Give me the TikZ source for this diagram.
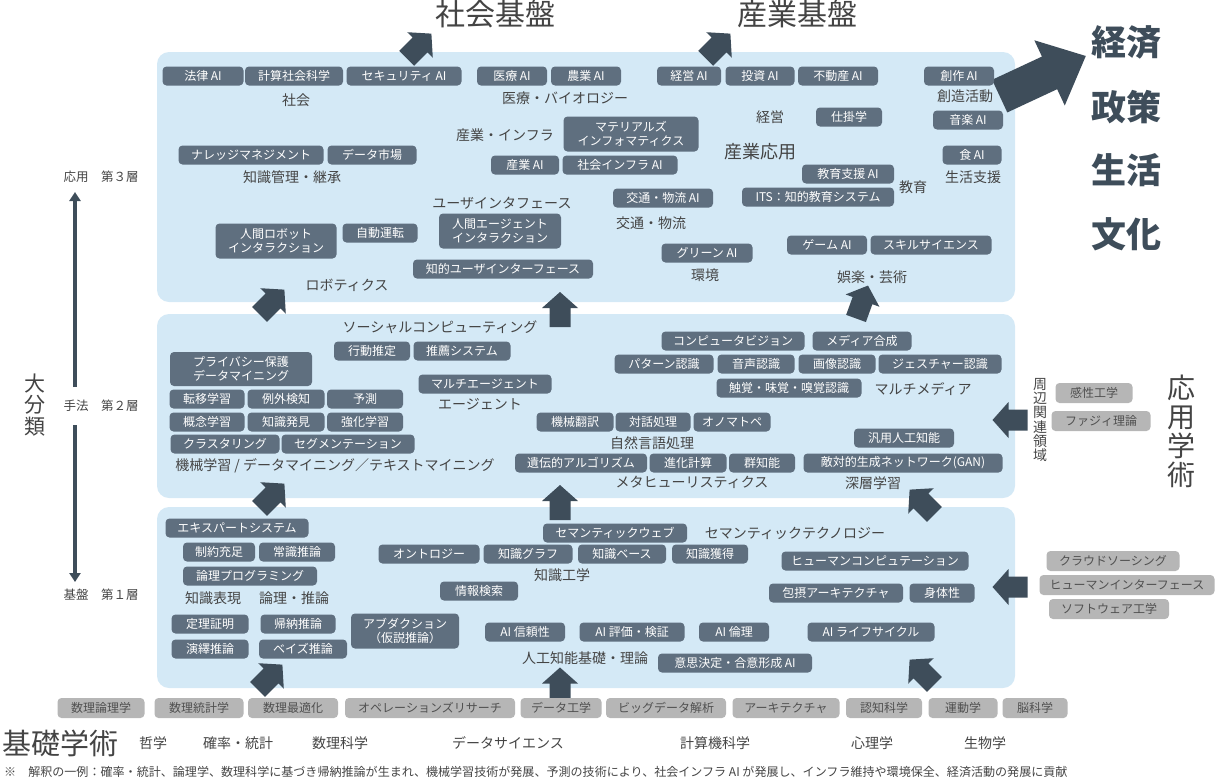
\documentclass[tikz,border=0pt]{standalone}
\usepackage{fontspec}
\setmainfont{Noto Sans CJK JP}
\usetikzlibrary{arrows.meta,positioning}
\definecolor{panelc}{RGB}{212,233,246}
\definecolor{pillc}{RGB}{95,111,127}
\definecolor{arrowc}{RGB}{62,77,90}
\definecolor{txtc}{RGB}{68,68,68}
\definecolor{grayc}{RGB}{182,182,182}
\definecolor{graytxt}{RGB}{80,80,80}
\newcommand\fsz[1]{\fontsize{#1}{#1}\selectfont}

\begin{document}
\begin{tikzpicture}[
    x=1pt, y=-1pt,
    panel/.style={fill=panelc, rounded corners=12pt, inner sep=0pt, minimum width=858pt},
    pill/.style={fill=pillc, text=white, rounded corners=4pt, minimum height=19pt,
                 inner sep=1pt, align=center, font=\fsz{12}},
    pilltwo/.style={pill, minimum height=35pt, font=\fontsize{12}{14}\selectfont},
    gpill/.style={fill=grayc, text=graytxt, rounded corners=4pt, minimum height=20pt,
                 inner sep=1pt, font=\fsz{12}},
    lbl/.style={text=txtc, inner sep=0pt, font=\fsz{14}},
    title/.style={text=txtc, inner sep=0pt, font=\fsz{30}},
    goal/.style={text=arrowc, inner sep=0pt, font=\fsz{35}\bfseries},
    vtext/.style={text=txtc, inner sep=0pt, align=center},
    axlbl/.style={text=txtc, inner sep=0pt, font=\fsz{12.5}},
    axarrow/.style={draw=arrowc, line width=4pt, -{Triangle[width=11pt,length=9pt]}},
    pics/blockarr/.style={code={
        \fill[arrowc] (-17.5,-10.5) -- (1.5,-10.5) -- (1.5,-18) -- (17.5,0)
                      -- (1.5,18) -- (1.5,10.5) -- (-17.5,10.5) -- cycle;}}
]
\useasboundingbox (0,0) rectangle (1220,782);

% ---------- layers ----------
\node[panel, minimum height=250pt] (lay3) at (586,177) {};
\node[panel, minimum height=184pt] (lay2) at (586,406) {};
\node[panel, minimum height=181pt] (lay1) at (586,597.5) {};

% ---------- arrows between layers ----------
\pic[rotate=45]  (asoc) at (419,46)  {blockarr};
\pic[rotate=45]  (aind) at (718,46)  {blockarr};
\pic[rotate=45]  (a3l)  at (272,302) {blockarr};
\pic[rotate=90]  (a3m)  at (560,309.5) {blockarr};
\pic[rotate=70]  (a3r)  at (862,302) {blockarr};
\pic[rotate=45]  (a2l)  at (272,496) {blockarr};
\pic[rotate=90]  (a2m)  at (560,502.5) {blockarr};
\pic[rotate=135] (a2r)  at (922,502) {blockarr};
\pic[rotate=45]  (a1l)  at (270,677) {blockarr};
\pic[rotate=90]  (a1m)  at (560,685) {blockarr};
\pic[rotate=135] (a1r)  at (922,672) {blockarr};
\pic[rotate=180] (arm)  at (1010,420) {blockarr};
\pic[rotate=180] (arb)  at (1010,587) {blockarr};
% big arrow to the right
\begin{scope}[shift={(1045,75)}, rotate=25]
\fill[arrowc] (-50,-18) -- (5,-18) -- (5,-36) -- (45,0) -- (5,36) -- (5,18) -- (-50,18) -- cycle;
\end{scope}

% ---------- titles ----------
\node[title] (tsoc) at (495,14) {社会基盤};
\node[title] (tind) at (797,14) {産業基盤};
\node[goal] (g1) at (1126,42)  {経済};
\node[goal] (g2) at (1126,107) {政策};
\node[goal] (g3) at (1126,170) {生活};
\node[goal] (g4) at (1126,234) {文化};

% ---------- left axis ----------
\node[vtext, font=\fontsize{21}{21.5}\selectfont] (daibun) at (35,405) {大\\分\\類};
\node[axlbl] (ax3) at (101,177) {応用　第３層};
\node[axlbl] (ax2) at (101,406) {手法　第２層};
\node[axlbl] (ax1) at (101,595) {基盤　第１層};
\coordinate (axt)  at (75,192);
\coordinate (axm1) at (75,387);
\coordinate (axm2) at (75,425);
\coordinate (axb)  at (75,582);
\draw[axarrow] (axm1) -- (axt);
\draw[axarrow] (axm2) -- (axb);

% ---------- layer 3 ----------
\node[pill, minimum width=81pt]  (hou)    at (203,76) {法律 AI};
\node[pill, minimum width=98pt]  (keisan) at (294,76) {計算社会科学};
\node[pill, minimum width=115pt] (secu)   at (404,76) {セキュリティ AI};
\node[pill, minimum width=70pt]  (iryo)   at (512,76) {医療 AI};
\node[pill, minimum width=70pt]  (nogyo)  at (586,76) {農業 AI};
\node[pill, minimum width=64pt]  (keiei)  at (689,76) {経営 AI};
\node[pill, minimum width=69pt]  (toushi) at (760,76) {投資 AI};
\node[pill, minimum width=80pt]  (fudo)   at (838,76) {不動産 AI};
\node[pill, minimum width=70pt]  (sosaku) at (959,76) {創作 AI};
\node[pill, minimum width=70pt]  (ongaku) at (968,120) {音楽 AI};
\node[pill, minimum width=59pt]  (shoku)  at (972,155) {食 AI};
\node[pill, minimum width=66pt]  (shikake) at (849,117) {仕掛学};
\node[pill, minimum width=92pt]  (kyoiku) at (848,174) {教育支援 AI};
\node[pill, minimum width=152pt] (its)    at (818,197) {ITS：知的教育システム};
\node[pill, minimum width=80pt]  (game)   at (827,245) {ゲーム AI};
\node[pill, minimum width=121pt] (skill)  at (931,245) {スキルサイエンス};
\node[pill, minimum width=91pt]  (green)  at (707,253) {グリーン AI};
\node[pill, minimum width=100pt] (kotsu)  at (663,198) {交通・物流 AI};
\node[pilltwo, minimum width=135pt] (mat) at (631,134) {マテリアルズ\\インフォマティクス};
\node[pill, minimum width=68pt]  (sangyo) at (525,165) {産業 AI};
\node[pill, minimum width=115pt] (infra)  at (620,165) {社会インフラ AI};
\node[pilltwo, minimum width=122pt] (hai) at (500,231) {人間エージェント\\インタラクション};
\node[pill, minimum width=180pt] (chui)   at (503,269) {知的ユーザインターフェース};
\node[pill, minimum width=145pt] (knowm)  at (251,155) {ナレッジマネジメント};
\node[pill, minimum width=89pt]  (dmkt)   at (372,155) {データ市場};
\node[pilltwo, minimum width=121pt] (hri) at (276,241) {人間ロボット\\インタラクション};
\node[pill, minimum width=75pt]  (jido)   at (380,233) {自動運転};

\node[lbl] (lshakai) at (296,100) {社会};
\node[lbl] (liryo)   at (565,98)  {医療・バイオロジー};
\node[lbl] (lsozo)   at (965,96)  {創造活動};
\node[lbl] (lseikatsu) at (973,177) {生活支援};
\node[lbl] (lkeiei)  at (770,117) {経営};
\node[lbl, font=\fsz{18}] (lsangyo) at (760,152) {産業応用};
\node[lbl] (lkyoiku) at (913,187) {教育};
\node[lbl] (lgoraku) at (872,277) {娯楽・芸術};
\node[lbl] (lkankyo) at (705,275) {環境};
\node[lbl] (lkotsu)  at (651,223) {交通・物流};
\node[lbl] (linfra)  at (505,135) {産業・インフラ};
\node[lbl] (lui)     at (502,203) {ユーザインタフェース};
\node[lbl] (lchishiki) at (292,177) {知識管理・継承};
\node[lbl] (lrobot)  at (347,285) {ロボティクス};

% ---------- layer 2 ----------
\node[lbl] (lsocial) at (440,327) {ソーシャルコンピューティング};
\node[pill, minimum width=76pt]  (koudo)   at (372,351) {行動推定};
\node[pill, minimum width=97pt]  (suisen)  at (462,351) {推薦システム};
\node[pilltwo, minimum width=142pt, minimum height=34pt] (privacy) at (241,369) {プライバシー保護\\データマイニング};
\node[pill, minimum width=75pt]  (teni)    at (207,399) {転移学習};
\node[pill, minimum width=77pt]  (reigai)  at (286,399) {例外検知};
\node[pill, minimum width=76pt]  (yosoku)  at (365,399) {予測};
\node[pill, minimum width=75pt]  (gainen)  at (207,422) {概念学習};
\node[pill, minimum width=77pt]  (hakken)  at (286,422) {知識発見};
\node[pill, minimum width=76pt]  (kyoka)   at (365,422) {強化学習};
\node[pill, minimum width=109pt] (cluster) at (225,444) {クラスタリング};
\node[pill, minimum width=133pt] (segm)    at (348,444) {セグメンテーション};
\node[lbl] (lml) at (335,466) {機械学習 / データマイニング／テキストマイニング};
\node[pill, minimum width=133pt] (multi)   at (485,384) {マルチエージェント};
\node[lbl] (lagent) at (480,404) {エージェント};
\node[pill, minimum width=143pt] (cv)      at (733,341) {コンピュータビジョン};
\node[pill, minimum width=99pt]  (media)   at (862,341) {メディア合成};
\node[pill, minimum width=99pt]  (pattern) at (664,364) {パターン認識};
\node[pill, minimum width=77pt]  (onsei)   at (756,364) {音声認識};
\node[pill, minimum width=77pt]  (gazo)    at (837,364) {画像認識};
\node[pill, minimum width=123pt] (gesture) at (940,364) {ジェスチャー認識};
\node[pill, minimum width=145pt] (shokkaku) at (789,388) {触覚・味覚・嗅覚認識};
\node[lbl] (lmm) at (923,389) {マルチメディア};
\node[pill, minimum width=77pt]  (honyaku) at (575,422) {機械翻訳};
\node[pill, minimum width=75pt]  (taiwa)   at (653,422) {対話処理};
\node[pill, minimum width=77pt]  (ono)     at (732,422) {オノマトペ};
\node[lbl] (lnlp) at (652,443) {自然言語処理};
\node[pill, minimum width=132pt] (ga)      at (581,463) {遺伝的アルゴリズム};
\node[pill, minimum width=77pt]  (shinka)  at (688,463) {進化計算};
\node[pill, minimum width=66pt]  (gun)     at (762,463) {群知能};
\node[lbl] (lmeta) at (692,482) {メタヒューリスティクス};
\node[pill, minimum width=100pt] (agi)     at (904,438) {汎用人工知能};
\node[pill, minimum width=199pt] (gan)     at (903,463) {敵対的生成ネットワーク(GAN)};
\node[lbl] (ldeep) at (873,483) {深層学習};

% ---------- layer 1 ----------
\node[pill, minimum width=143pt] (expert)  at (237,528) {エキスパートシステム};
\node[pill, minimum width=72pt]  (seiyaku) at (219,552) {制約充足};
\node[pill, minimum width=76pt]  (joshiki) at (297,552) {常識推論};
\node[pill, minimum width=134pt] (ronri)   at (250,576) {論理プログラミング};
\node[lbl] (lhyogen) at (213,598) {知識表現};
\node[lbl] (lsuiron) at (294,598) {論理・推論};
\node[pill, minimum width=77pt]  (teiri)   at (210,624) {定理証明};
\node[pill, minimum width=75pt]  (kino)    at (298,624) {帰納推論};
\node[pill, minimum width=77pt]  (eneki)   at (210,649) {演繹推論};
\node[pill, minimum width=88pt]  (bayes)   at (303,649) {ベイズ推論};
\node[pilltwo, minimum width=108pt] (abd)  at (405,631) {アブダクション\\（仮説推論）};
\node[pill, minimum width=101pt] (onto)    at (429,554) {オントロジー};
\node[pill, minimum width=89pt]  (kg)      at (528,554) {知識グラフ};
\node[pill, minimum width=88pt]  (kb)      at (622,554) {知識ベース};
\node[pill, minimum width=76pt]  (kacq)    at (710,554) {知識獲得};
\node[lbl] (lke) at (562,575) {知識工学};
\node[pill, minimum width=144pt] (semweb)  at (615,533) {セマンティックウェブ};
\node[lbl] (lsem) at (795,533) {セマンティックテクノロジー};
\node[pill, minimum width=78pt]  (ir)      at (479,591) {情報検索};
\node[pill, minimum width=187pt] (hc)      at (875,561) {ヒューマンコンピュテーション};
\node[pill, minimum width=134pt] (hosetsu) at (836,593) {包摂アーキテクチャ};
\node[pill, minimum width=65pt]  (shintai) at (942,593) {身体性};
\node[pill, minimum width=80pt]  (aitrust) at (525,632) {AI 信頼性};
\node[pill, minimum width=105pt] (aieval)  at (632,632) {AI 評価・検証};
\node[pill, minimum width=70pt]  (aieth)   at (734,632) {AI 倫理};
\node[pill, minimum width=127pt] (ailife)  at (871,632) {AI ライフサイクル};
\node[lbl] (lkiso) at (585,658) {人工知能基礎・理論};
\node[pill, minimum width=154pt] (ishi)    at (735,663) {意思決定・合意形成 AI};

% ---------- foundations ----------
\node[gpill, minimum width=87pt]  (f1)  at (101,708)  {数理論理学};
\node[gpill, minimum width=89pt]  (f2)  at (199,708)  {数理統計学};
\node[gpill, minimum width=90pt]  (f3)  at (293,708)  {数理最適化};
\node[gpill, minimum width=170pt] (f4)  at (430,708)  {オペレーションズリサーチ};
\node[gpill, minimum width=81pt]  (f5)  at (561,708)  {データ工学};
\node[gpill, minimum width=120pt] (f6)  at (666,708)  {ビッグデータ解析};
\node[gpill, minimum width=107pt] (f7)  at (786,708)  {アーキテクチャ};
\node[gpill, minimum width=76pt]  (f8)  at (884,708)  {認知科学};
\node[gpill, minimum width=69pt]  (f9)  at (963,708)  {運動学};
\node[gpill, minimum width=65pt]  (f10) at (1035,708) {脳科学};

\node[lbl, font=\fsz{29}] (kisogaku) at (60,743) {基礎学術};
\node[lbl] (b1) at (153,743) {哲学};
\node[lbl] (b2) at (238,743) {確率・統計};
\node[lbl] (b3) at (340,743) {数理科学};
\node[lbl] (b4) at (508,743) {データサイエンス};
\node[lbl] (b5) at (715,743) {計算機科学};
\node[lbl] (b6) at (872,743) {心理学};
\node[lbl] (b7) at (985,743) {生物学};
\node[lbl, anchor=west, font=\fsz{12.05}] (note) at (4,772)
  {※　解釈の一例：確率・統計、論理学、数理科学に基づき帰納推論が生まれ、機械学習技術が発展、予測の技術により、社会インフラ AI が発展し、インフラ維持や環境保全、経済活動の発展に貢献};

% ---------- right side ----------
\node[vtext, font=\fontsize{14}{14.2}\selectfont] (shuhen) at (1040,420) {周\\辺\\関\\連\\領\\域};
\node[vtext, font=\fontsize{28}{29}\selectfont] (oyo) at (1181,431) {応\\用\\学\\術};
\node[gpill, minimum width=77pt]  (kansei) at (1094,393) {感性工学};
\node[gpill, minimum width=99pt]  (fuzzy)  at (1101,421) {ファジィ理論};
\node[gpill, minimum width=133pt] (crowd)  at (1113,561) {クラウドソーシング};
\node[gpill, minimum width=175pt] (hif)    at (1127,585) {ヒューマンインターフェース};
\node[gpill, minimum width=120pt] (swe)    at (1109,609) {ソフトウェア工学};

\end{tikzpicture}
\end{document}
